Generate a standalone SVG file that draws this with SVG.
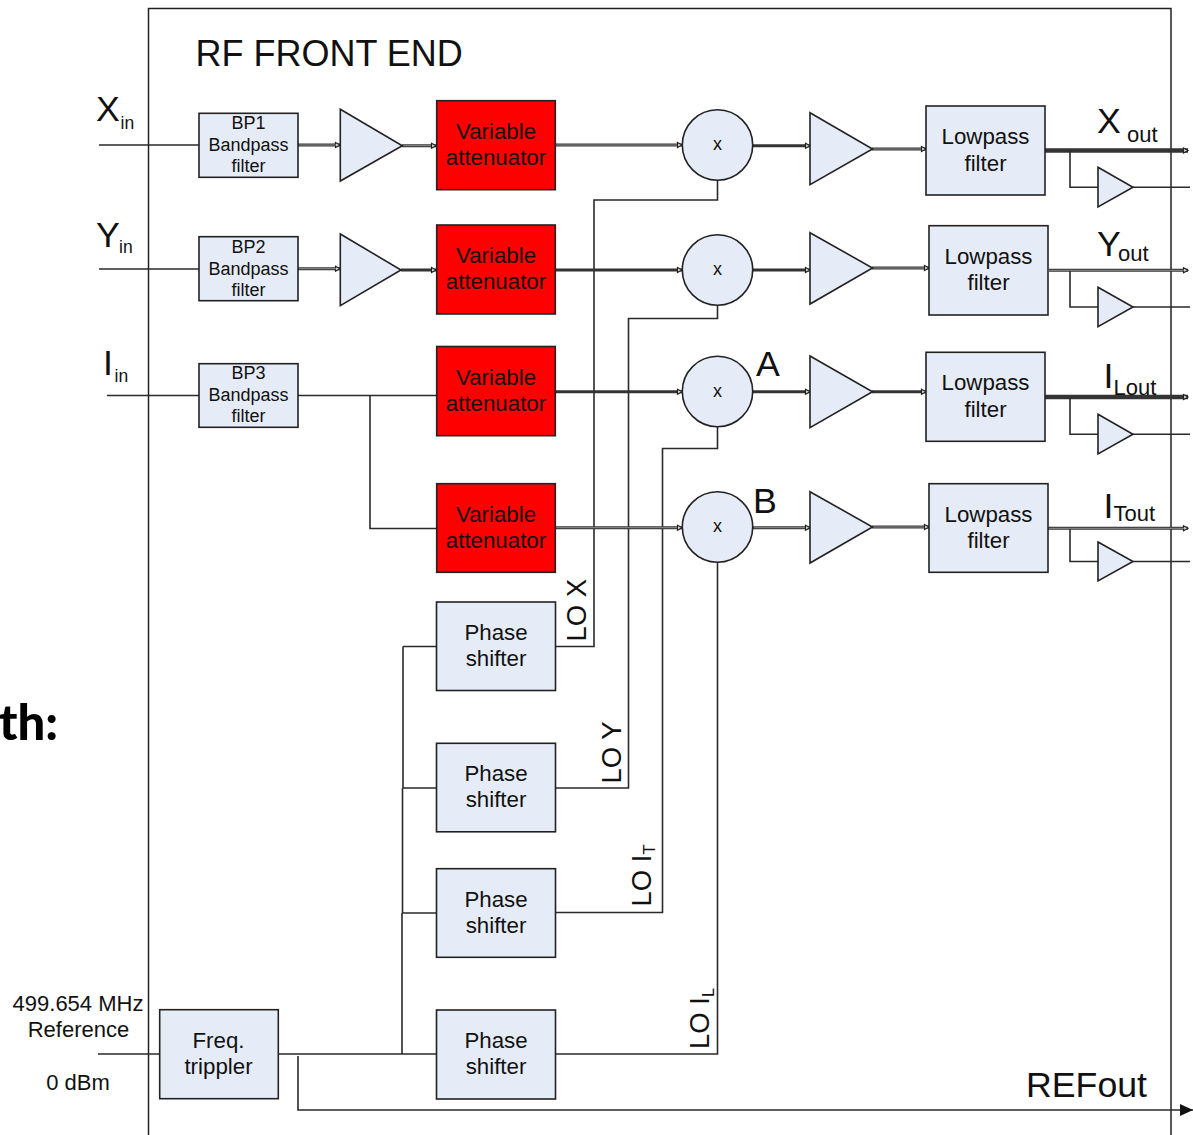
<svg xmlns="http://www.w3.org/2000/svg" width="1193" height="1135" viewBox="0 0 1193 1135">
<style>
text{font-family:"Liberation Sans",Arial,sans-serif;fill:#111;text-anchor:middle}
.s{text-anchor:start}
.n{fill:#e6ecf7;stroke:#222;stroke-width:1.6}
.r{fill:#fe0000;stroke:#222;stroke-width:1.6}
.w{fill:none;stroke:#2a2a2a;stroke-width:1.6}
.t{fill:none;stroke:#333;stroke-width:3}
.h{fill:none;stroke:#333;stroke-width:4.5}
.c{fill:none;stroke:#aaa;stroke-width:.8}
.b{font-size:18px}
.v{font-size:22.3px}
.big{font-size:35.7px}
.sub{font-size:22px}
.lo{font-size:27.5px}
.ref{font-size:22px}
.m{font-size:18px}
.in{font-size:17.5px}
</style>
<defs>
<marker id="a" markerUnits="userSpaceOnUse" markerWidth="8" markerHeight="8" refX="6" refY="4" orient="auto"><path d="M1.5 1.5L6 4L1.5 6.5Z" fill="#ddd" stroke="#222" stroke-width="1.2"/></marker>
<marker id="big" markerUnits="userSpaceOnUse" markerWidth="14" markerHeight="14" refX="13" refY="7" orient="auto"><path d="M0 1L13 7L0 13Z" fill="#111"/></marker>
</defs>
<rect width="1193" height="1135" fill="#fff"/>
<path id="frame" d="M148.5 1135V8.5H1171V1135" fill="none" stroke="#222" stroke-width="1.5"/>
<text id="title" class="s" x="195.5" y="66" font-size="36">RF FRONT END</text>
<text id="cut" x="58" y="740" font-size="49" font-weight="900" style="font-family:Lato,'Liberation Sans',sans-serif;text-anchor:end;fill:#000">th:</text>
<g id="connectors">
<path class="w" d="M99 145H199M99 269H199M107 395.5H436M370 395.5V528.5H436"/>
<path class="w" d="M98 1054H436M403 646.5H436M403 646.5V788M403 788H436M402.5 788V913M402.5 913H436M402 913V1054"/>
<path class="w" d="M555 646.5H594V200H717.5V180"/>
<path class="w" d="M555 788H628.5V318.5H717.5V305"/>
<path class="w" d="M555 912.5H662.5V448.5H717.5V427"/>
<path class="w" d="M555 1054H717.5V562"/>
<path class="w" d="M298 1056V1110H1193" marker-end="url(#big)"/>
<path class="t" d="M298 145H340" marker-end="url(#a)"/>
<path class="t" d="M402 145.7H436" marker-end="url(#a)"/>
<path class="t" d="M555 145H682" marker-end="url(#a)"/>
<path class="t" d="M753 145.7H810" marker-end="url(#a)"/>
<path class="t" d="M872 149H926" marker-end="url(#a)"/>
<path class="h" d="M1045 150.5H1188" marker-end="url(#a)"/>
<path class="t" d="M298 268.7H340" marker-end="url(#a)"/>
<path class="t" d="M401 270H436" marker-end="url(#a)"/>
<path class="t" d="M555 270H682" marker-end="url(#a)"/>
<path class="t" d="M753 270H810" marker-end="url(#a)"/>
<path class="t" d="M872 268H929" marker-end="url(#a)"/>
<path class="t" d="M1049 270.3H1188" marker-end="url(#a)"/>
<path class="t" d="M555 391.7H682" marker-end="url(#a)"/>
<path class="t" d="M753 391.7H810" marker-end="url(#a)"/>
<path class="t" d="M872 391.7H926" marker-end="url(#a)"/>
<path class="h" d="M1045 397H1188" marker-end="url(#a)"/>
<path class="t" d="M555 527.7H682" marker-end="url(#a)"/>
<path class="t" d="M753 527.7H810" marker-end="url(#a)"/>
<path class="t" d="M872 527H929" marker-end="url(#a)"/>
<path class="t" d="M1048 528.3H1188" marker-end="url(#a)"/>
<path class="c" d="M299 145H336M403 145.7H431M556 145H677M873 149H921M299 268.7H336M873 268H924M556 527.7H677M754 527.7H805M873 527H924M1049 270.3H1184M1049 528.3H1184"/>
<path class="w" d="M1070 151V187.3H1098M1133 187.3H1190M1070 271V307H1098M1133 307H1190M1070 398V434.3H1098M1133 434.3H1190M1070 529V561.5H1098M1133 561.5H1190"/>
</g>
<g id="labels">
<text class="big s" x="96" y="121">X</text><text class="in s" x="120.5" y="128.7">in</text>
<text class="big s" x="96" y="246.7">Y</text><text class="in s" x="119" y="252.7">in</text>
<text class="big s" x="103" y="375">I</text><text class="in s" x="114.5" y="381.7">in</text>
<text class="big s" x="1097" y="133.3">X</text><text class="sub s" x="1127" y="141.7">out</text>
<text class="big s" x="1097" y="256">Y</text><text class="sub s" x="1118" y="261">out</text>
<text class="big s" x="1103.5" y="387.7">I</text><text class="sub s" x="1113.5" y="395">Lout</text>
<text class="big s" x="1103.5" y="517.7">I</text><text class="sub s" x="1113.5" y="521">Tout</text>
<text class="big s" x="756" y="375.7">A</text>
<text class="big s" x="753" y="513.3">B</text>
<text class="big s" x="1026" y="1097.3">REFout</text>
<text class="lo s" transform="translate(585.7 641.5) rotate(-90)">LO X</text>
<text class="lo s" transform="translate(621 783.5) rotate(-90)">LO Y</text>
<text class="lo s" transform="translate(651 906.5) rotate(-90)">LO I<tspan font-size="16.5" dy="4">T</tspan></text>
<text class="lo s" transform="translate(708.7 1049) rotate(-90)">LO I<tspan font-size="16.5" dy="5">L</tspan></text>
<text class="ref" x="78" y="1011">499.654 MHz</text>
<text class="ref" x="78.5" y="1037">Reference</text>
<text class="ref" x="78" y="1090">0 dBm</text>
</g>
<g id="bp1"><rect class="n" x="199" y="113.3" width="99" height="64"/><text class="b" x="248.5" y="129.3">BP1</text><text class="b" x="248.5" y="151">Bandpass</text><text class="b" x="248.5" y="172">filter</text></g>
<g id="bp2"><rect class="n" x="199" y="236.7" width="99" height="64"/><text class="b" x="248.5" y="253">BP2</text><text class="b" x="248.5" y="274.5">Bandpass</text><text class="b" x="248.5" y="295.5">filter</text></g>
<g id="bp3"><rect class="n" x="199" y="363.7" width="99" height="63.6"/><text class="b" x="248.5" y="379.3">BP3</text><text class="b" x="248.5" y="401">Bandpass</text><text class="b" x="248.5" y="422">filter</text></g>
<g id="amp1"><path class="n" d="M340.3 109.3L402.3 145.7L340.3 181Z"/></g>
<g id="amp2"><path class="n" d="M340.3 234L401 270L340.3 305.7Z"/></g>
<g id="va1"><rect class="r" x="436.7" y="100.7" width="118.6" height="89"/><text class="v" x="496" y="139">Variable</text><text class="v" x="496" y="165.3">attenuator</text></g>
<g id="va2"><rect class="r" x="436.7" y="225" width="118.6" height="89"/><text class="v" x="496" y="262.7">Variable</text><text class="v" x="496" y="289.3">attenuator</text></g>
<g id="va3"><rect class="r" x="436.7" y="346.5" width="118.6" height="89.2"/><text class="v" x="496" y="384.7">Variable</text><text class="v" x="496" y="411">attenuator</text></g>
<g id="va4"><rect class="r" x="436.7" y="483.7" width="118.6" height="88.6"/><text class="v" x="496" y="522">Variable</text><text class="v" x="496" y="548.3">attenuator</text></g>
<g id="mix1"><circle class="n" cx="717.5" cy="145" r="35.2"/><text class="m" x="717.5" y="150">x</text></g>
<g id="mix2"><circle class="n" cx="717.5" cy="270" r="35.2"/><text class="m" x="717.5" y="274.5">x</text></g>
<g id="mix3"><circle class="n" cx="717.5" cy="391.5" r="35.2"/><text class="m" x="717.5" y="396.5">x</text></g>
<g id="mix4"><circle class="n" cx="717.5" cy="527" r="35.2"/><text class="m" x="717.5" y="532">x</text></g>
<g id="amp3"><path class="n" d="M810 112.7L872.5 149L810 184.7Z"/></g>
<g id="amp4"><path class="n" d="M810 232.7L872.5 268L810 304Z"/></g>
<g id="amp5"><path class="n" d="M810 356L872.5 391.7L810 427.7Z"/></g>
<g id="amp6"><path class="n" d="M810 491.7L872.5 527L810 563Z"/></g>
<g id="lp1"><rect class="n" x="926" y="106" width="119" height="89"/><text class="v" x="985.5" y="144">Lowpass</text><text class="v" x="985.5" y="170.7">filter</text></g>
<g id="lp2"><rect class="n" x="929" y="225.7" width="119" height="89.3"/><text class="v" x="988.5" y="264">Lowpass</text><text class="v" x="988.5" y="290">filter</text></g>
<g id="lp3"><rect class="n" x="926" y="352.3" width="119" height="89"/><text class="v" x="985.5" y="390">Lowpass</text><text class="v" x="985.5" y="416.7">filter</text></g>
<g id="lp4"><rect class="n" x="929" y="483.7" width="119" height="88.6"/><text class="v" x="988.5" y="521.7">Lowpass</text><text class="v" x="988.5" y="547.7">filter</text></g>
<g id="buf1"><path class="n" d="M1098 167.3L1133 187.3L1098 207Z"/></g>
<g id="buf2"><path class="n" d="M1098 287.3L1133 307L1098 326.7Z"/></g>
<g id="buf3"><path class="n" d="M1098 414.3L1133 434.3L1098 454Z"/></g>
<g id="buf4"><path class="n" d="M1098 542L1133 561.5L1098 581Z"/></g>
<g id="ps1"><rect class="n" x="436.5" y="602" width="119" height="88.5"/><text class="v" x="496" y="640">Phase</text><text class="v" x="496" y="666">shifter</text></g>
<g id="ps2"><rect class="n" x="436.5" y="743.3" width="119" height="88.5"/><text class="v" x="496" y="781">Phase</text><text class="v" x="496" y="807">shifter</text></g>
<g id="ps3"><rect class="n" x="436.5" y="868.7" width="119" height="88.6"/><text class="v" x="496" y="906.7">Phase</text><text class="v" x="496" y="932.7">shifter</text></g>
<g id="ps4"><rect class="n" x="436.5" y="1010" width="119" height="89"/><text class="v" x="496" y="1047.7">Phase</text><text class="v" x="496" y="1073.7">shifter</text></g>
<g id="freq"><rect class="n" x="159.7" y="1009.7" width="118.6" height="89"/><text class="v" x="218.5" y="1048.3">Freq.</text><text class="v" x="218.5" y="1074.3">trippler</text></g>
</svg>
